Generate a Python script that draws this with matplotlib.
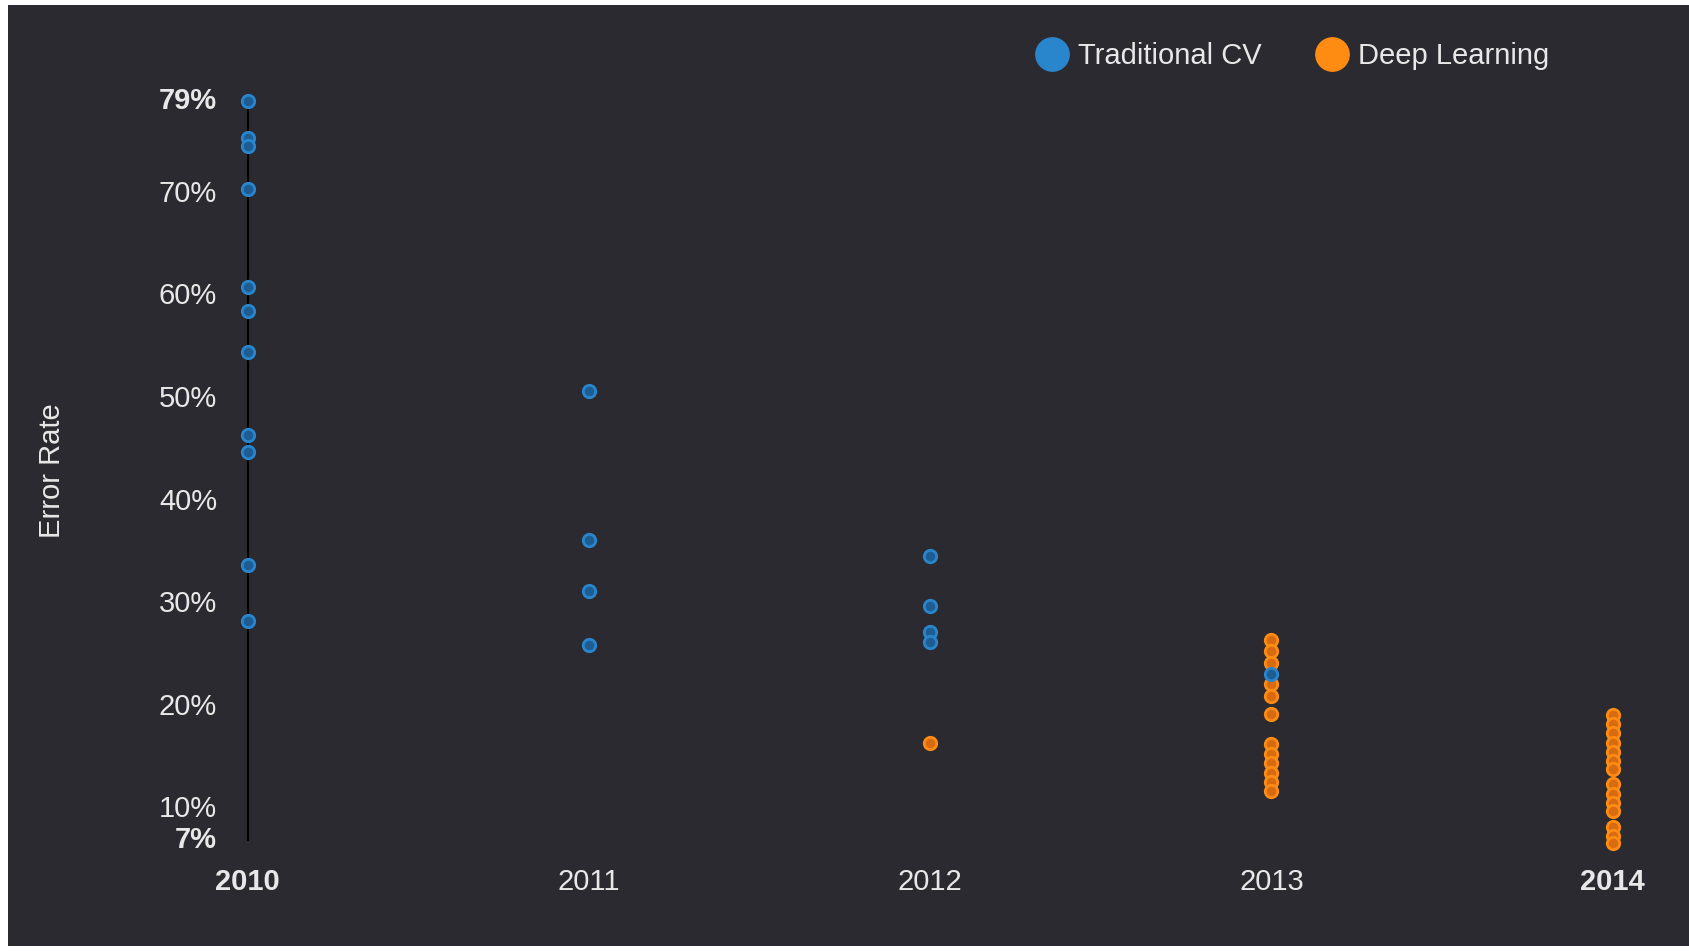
import matplotlib.pyplot as plt
from matplotlib.patches import Rectangle
from matplotlib.lines import Line2D

# ================= DATA =================
years = [2010, 2011, 2012, 2013, 2014]

# error rates (%)
trad_2010 = [79.0, 75.4, 74.6, 70.5, 60.9, 58.6, 54.6, 46.5, 44.8, 33.8, 28.4]
trad_2011 = [50.8, 36.3, 31.3, 26.0]
trad_2012 = [34.7, 29.8, 27.3, 26.3]
trad_2013 = [23.2]

deep_2012 = [16.5]
deep_2013 = [26.5, 25.4, 24.3, 22.2, 21.1, 19.3, 16.4, 15.4, 14.5, 13.5, 12.7, 11.8]
deep_2014 = [19.2, 18.3, 17.4, 16.5, 15.6, 14.7, 13.9, 12.5, 11.5, 10.6, 9.8, 8.3, 7.4, 6.7]

yticks = [7, 10, 20, 30, 40, 50, 60, 70, 79]

BG = "#2b2a30"
TXT = "#e8e8e8"
BLUE = "#2a86cc"
BLUE_IN = "#1d5d93"
ORANGE = "#ff8c12"
ORANGE_IN = "#d86a10"

plt.rcParams['font.family'] = ['Liberation Sans', 'DejaVu Sans']

fig = plt.figure(figsize=(16.89, 9.51), dpi=100)
fig.patch.set_facecolor("white")
# dark panel (screenshot has a thin white edge)
fig.patches.append(Rectangle((8 / 1689, 5 / 951), 1 - 8 / 1689, 1 - 10 / 951,
                             transform=fig.transFigure, facecolor=BG,
                             edgecolor="none", zorder=-5))

ax = fig.add_axes([0.1467, 0.1165, 0.8081, 0.777])
ax.set_facecolor("none")
ax.set_xlim(2010, 2014)
ax.set_ylim(7, 79)


def dots(year, vals, edge, face):
    ax.scatter([year] * len(vals), vals, s=80, facecolor=face, edgecolor=edge,
               linewidth=2.0, clip_on=False, zorder=3)


dots(2010, trad_2010, BLUE, BLUE_IN)
dots(2011, trad_2011, BLUE, BLUE_IN)
dots(2012, trad_2012, BLUE, BLUE_IN)
dots(2012, deep_2012, ORANGE, ORANGE_IN)
dots(2013, deep_2013, ORANGE, ORANGE_IN)
dots(2013, trad_2013, BLUE, BLUE_IN)
dots(2014, deep_2014, ORANGE, ORANGE_IN)

for s in ["top", "right", "bottom"]:
    ax.spines[s].set_visible(False)
ax.spines["left"].set_color("black")
ax.spines["left"].set_linewidth(1.5)

ax.set_yticks(yticks)
ax.set_yticklabels([f"{v}%" for v in yticks])
ax.set_xticks(years)
ax.set_xticklabels([str(y) for y in years])
ax.tick_params(axis="y", length=0, pad=22, labelsize=21, labelcolor=TXT)
ax.tick_params(axis="x", length=0, pad=20, labelsize=21, labelcolor=TXT)
for lbl in ax.get_yticklabels():
    lbl.set_verticalalignment("center")
    if lbl.get_text() in ("7%", "79%"):
        lbl.set_fontweight("bold")
for lbl in ax.get_xticklabels():
    if lbl.get_text() in ("2010", "2014"):
        lbl.set_fontweight("bold")

fig.text(52 / 1689, 1 - 471 / 951, "Error Rate", rotation=90, color=TXT,
         fontsize=21, ha="center", va="center")

handles = [Line2D([], [], marker="o", linestyle="none", markersize=24,
                  markerfacecolor=c, markeredgecolor=c) for c in (BLUE, ORANGE)]
leg = fig.legend(handles, ["Traditional CV", "Deep Learning"], loc="center",
                 bbox_to_anchor=(1292 / 1689, 1 - 56 / 951), ncol=2, frameon=False,
                 fontsize=21, handletextpad=0.3, columnspacing=1.8,
                 handlelength=1.2)
for t in leg.get_texts():
    t.set_color(TXT)

plt.savefig("out.png", dpi=100, facecolor=fig.get_facecolor())
